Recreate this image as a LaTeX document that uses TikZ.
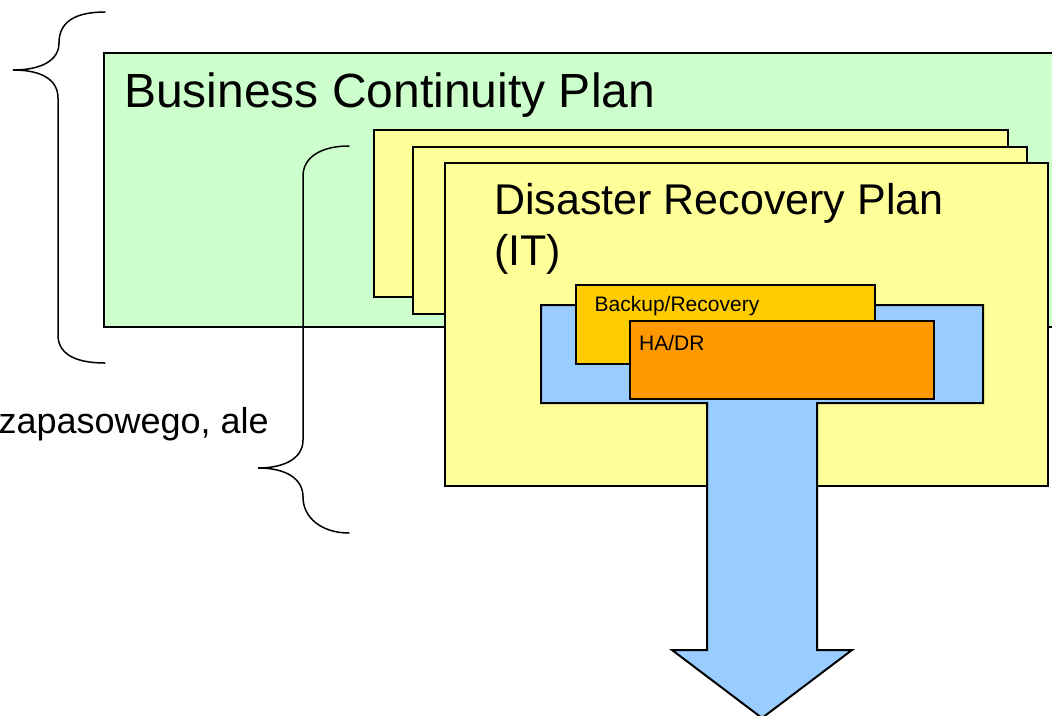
\documentclass[tikz,border=0pt]{standalone}
\usepackage{fontspec}
\setmainfont{Liberation Sans}
\definecolor{bcpgreen}{HTML}{CCFFCC}
\definecolor{drpyellow}{HTML}{FFFF99}
\definecolor{arrowblue}{HTML}{99CCFF}
\definecolor{backuporange}{HTML}{FFCC00}
\definecolor{hadrorange}{HTML}{FF9900}
\begin{document}
\begin{tikzpicture}[x=1pt,y=-1pt,
  box/.style={draw=black,line width=2pt,inner sep=0pt,anchor=north west,rectangle},
  brace/.style={draw=black,line width=1.5pt,line cap=round},
  lbl/.style={inner sep=0pt,text=black}]
\useasboundingbox (0,0) rectangle (1052,715);
\clip (0,0) rectangle (1052,715);
% Business Continuity Plan box
\node[box,fill=bcpgreen,minimum width=967pt,minimum height=274pt] (bcp) at (103,52) {};
\node[lbl,anchor=base west,font=\fontsize{48}{56}\selectfont] (bcpt) at (124,107) {Business Continuity Plan};
% big brace
\coordinate (b1top) at (105,12);
\coordinate (b1tip) at (13,70);
\coordinate (b1bot) at (105,363);
\draw[brace] (b1top) .. controls (72,12) and (59,24) .. (59,43)
  .. controls (59,60) and (42,70) .. (b1tip)
  .. controls (42,70) and (58,80) .. (58,98)
  -- (58,335) .. controls (58,352) and (72,363) .. (b1bot);
% second brace
\coordinate (b2top) at (349,146);
\coordinate (b2tip) at (258,468);
\coordinate (b2bot) at (349,533);
\draw[brace] (b2top) .. controls (320,146) and (303,158) .. (303,176)
  -- (303,440) .. controls (303,458) and (285,468) .. (b2tip)
  .. controls (285,468) and (303,478) .. (303,497)
  .. controls (303,518) and (322,533) .. (b2bot);
% DRP stack
\node[box,fill=drpyellow,minimum width=634pt,minimum height=167pt] (drpa) at (373,129) {};
\node[box,fill=drpyellow,minimum width=614pt,minimum height=167pt] (drpb) at (412,146) {};
\node[box,fill=drpyellow,minimum width=603pt,minimum height=323pt] (drpc) at (444,162) {};
\node[lbl,anchor=base west,font=\fontsize{43}{51}\selectfont] (drpt1) at (494,214) {Disaster Recovery Plan};
\node[lbl,anchor=base west,font=\fontsize{43}{51}\selectfont] (drpt2) at (494,265) {(IT)};
% blue T arrow
\draw[line width=2pt,line join=miter,fill=arrowblue] (541,305) -- (983,305) -- (983,403) -- (817,403)
  -- (817,650) -- (852,650) -- (762,718) -- (672,650) -- (707,650) -- (707,403) -- (541,403) -- cycle;
% Backup / HA
\node[box,fill=backuporange,minimum width=299pt,minimum height=79pt] (bkp) at (575,284) {};
\node[lbl,anchor=base west,font=\fontsize{21}{25}\selectfont] (bkpt) at (594.5,311) {Backup/Recovery};
\node[box,fill=hadrorange,minimum width=304pt,minimum height=78pt] (hadr) at (629,320) {};
\node[lbl,anchor=base west,font=\fontsize{21}{25}\selectfont] (hadrt) at (639,350) {HA/DR};
% side text
\node[lbl,anchor=base east,font=\fontsize{36}{43}\selectfont] (side) at (269,433) {zapasowego, ale};
\end{tikzpicture}
\end{document}
